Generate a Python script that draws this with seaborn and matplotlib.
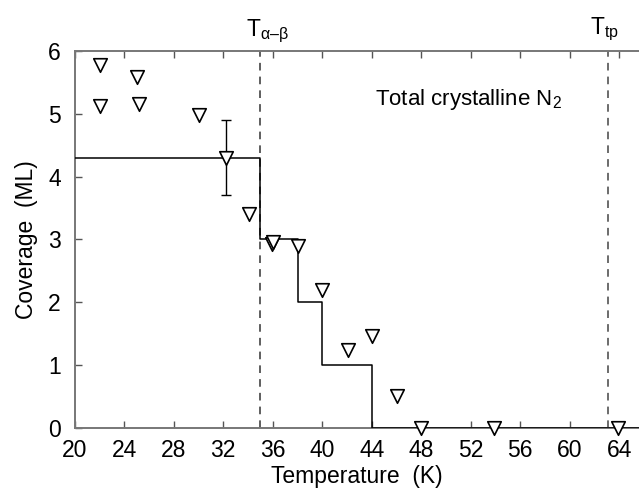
import matplotlib
matplotlib.use("Agg")
import matplotlib.pyplot as plt
import seaborn as sns
import pandas as pd

# Data
temp_pts = [22, 22, 25, 25.2, 30, 32.2, 34.1, 35.9, 36.0, 38.0, 40.0, 42.1, 44.0, 46.0, 48.0, 53.9, 63.9]
cov_pts = [5.78, 5.12, 5.59, 5.16, 4.98, 4.30, 3.40, 2.92, 2.96, 2.90, 2.20, 1.24, 1.46, 0.51, 0.0, 0.0, 0.0]
err_T = [32.2]
err_cov = [4.30]
err_size = [0.6]
step_T = [20, 35, 38, 40, 44, 66]
step_cov = [4.3, 3.0, 2.0, 1.0, 0.0, 0.0]
T_ab = 35.0
T_tp = 63.1
xticks = [20, 24, 28, 32, 36, 40, 44, 48, 52, 56, 60, 64]
yticks = [0, 1, 2, 3, 4, 5, 6]

sns.set_theme(style="white")
plt.rcParams['font.family'] = ['Liberation Sans', 'DejaVu Sans']
plt.rcParams['mathtext.fontset'] = 'custom'
plt.rcParams['mathtext.rm'] = 'Liberation Sans'
plt.rcParams['mathtext.it'] = 'Liberation Sans'
plt.rcParams['text.color'] = 'black'
plt.rcParams['axes.labelcolor'] = 'black'
plt.rcParams['xtick.color'] = 'black'
plt.rcParams['ytick.color'] = 'black'

FS = 16.5

fig = plt.figure(figsize=(6.39, 5.04), dpi=100)
ax = fig.add_axes([0.117, 0.151, 0.883, 0.748])

df_pts = pd.DataFrame({"T": temp_pts, "cov": cov_pts})
df_step = pd.DataFrame({"T": step_T, "cov": step_cov})

sns.lineplot(data=df_step, x="T", y="cov", drawstyle="steps-post", color="black",
             linewidth=1.1, ax=ax, sort=False, zorder=3)
ax.axvline(T_ab, color="#333333", linestyle=(0, (5, 4)), linewidth=1.1, zorder=2)
ax.axvline(T_tp, color="#444444", linestyle=(0, (5, 4)), linewidth=1.1, zorder=2)
ax.errorbar(err_T, err_cov, yerr=err_size, fmt="none", ecolor="black",
            elinewidth=1.0, capsize=3.5, capthick=1.0, zorder=4)
sns.scatterplot(data=df_pts, x="T", y="cov", marker="v", s=95, facecolor="white",
                edgecolor="black", linewidth=1.2, ax=ax, zorder=5, clip_on=False)

ax.set_xlim(20, 20 + (639 - 75) / 12.37)
ax.set_ylim(0, 6)
ax.set_xticks(xticks)
ax.set_yticks(yticks)
ax.tick_params(axis="both", direction="in", length=5, width=1,
               labelsize=FS, top=True, bottom=True, left=True, right=False)
ax.tick_params(axis="x", pad=8, color="#555555")
ax.tick_params(axis="y", pad=10, color="#555555")
for side in ["left", "bottom", "top"]:
    ax.spines[side].set_color("#777777")
    ax.spines[side].set_linewidth(1.4)
ax.spines["right"].set_visible(False)

ax.set_xlabel("Temperature  (K)", fontsize=FS, labelpad=2)
ax.set_ylabel("Coverage  (ML)", fontsize=FS, labelpad=7)

ax.text(51.8, 5.22, "Total crystalline N$_2$", fontsize=FS - 0.5, ha="center", va="center")
ax.text(35.6, 6.09, "T$_{\\rm α–β}$", fontsize=FS, ha="center", va="bottom")
ax.text(62.8, 6.12, "T$_{\\rm tp}$", fontsize=FS, ha="center", va="bottom")

fig.savefig("out.png", dpi=100)
